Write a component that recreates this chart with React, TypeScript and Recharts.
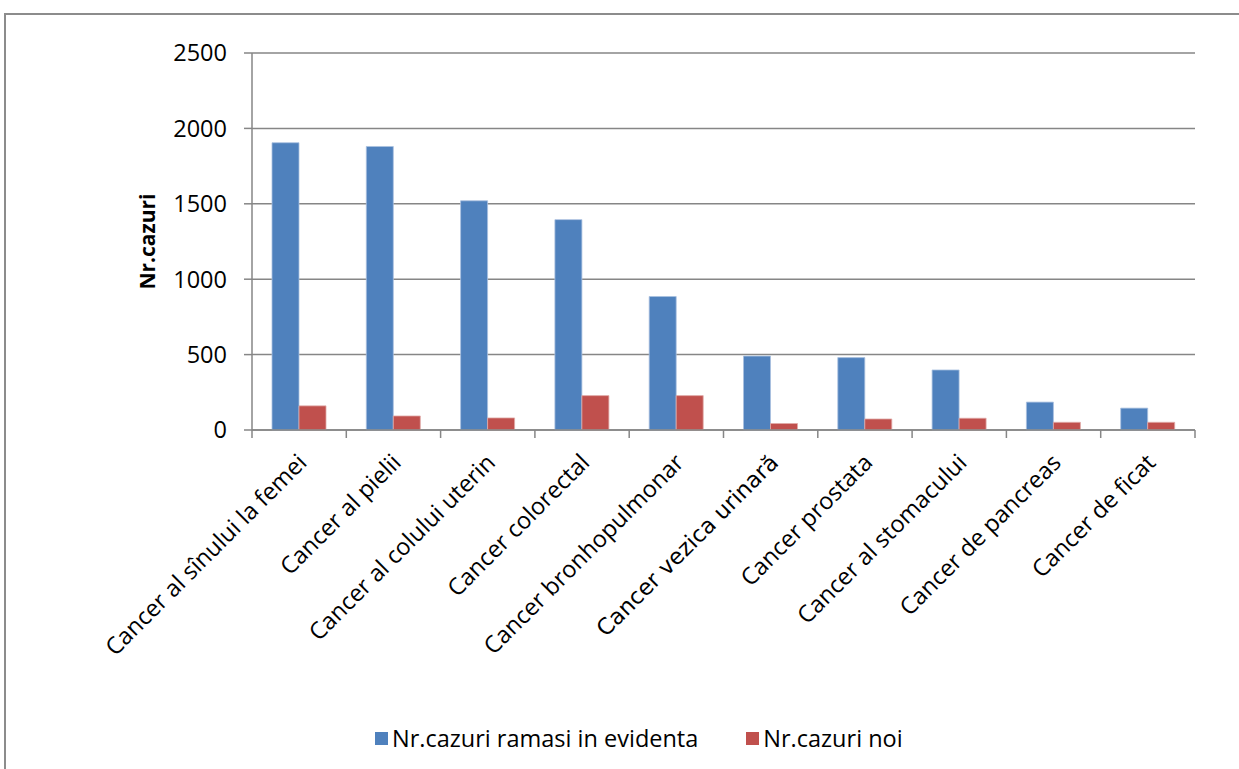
import * as React from "react";
import { BarChart, Bar, XAxis, YAxis, CartesianGrid } from "recharts";

const categories = [
  "Cancer al sînului la femei",
  "Cancer al pielii",
  "Cancer al colului uterin",
  "Cancer colorectal",
  "Cancer bronhopulmonar",
  "Cancer vezica urinară",
  "Cancer prostata",
  "Cancer al stomacului",
  "Cancer de pancreas",
  "Cancer de ficat",
];
const ramasiInEvidenta = [1905, 1880, 1520, 1395, 885, 490, 480, 398, 185, 145];
const cazuriNoi = [160, 93, 80, 228, 228, 43, 73, 78, 51, 51];
const yTicks = [0, 500, 1000, 1500, 2000, 2500];

const seriesNames = ["Nr.cazuri ramasi in evidenta", "Nr.cazuri noi"];
const colors = ["#4F81BD", "#C0504D"];

const data = categories.map((name, i) => ({
  name,
  ramasi: ramasiInEvidenta[i],
  noi: cazuriNoi[i],
}));

const FONT = "'Open Sans', sans-serif";
const BAND = 94.3;

function XTick(props: any) {
  const { x, y, payload, index } = props;
  // this one label is set in a different typeface in the original
  const odd = payload.value === "Cancer vezica urinară";
  const tx = x + 9;
  const ty = y + 26;
  return (
    <g>
      <line x1={x - BAND / 2} x2={x - BAND / 2} y1={y - 8} y2={y} stroke="#868686" strokeWidth={1.5} />
      {index === categories.length - 1 && (
        <line x1={x + BAND / 2} x2={x + BAND / 2} y1={y - 8} y2={y} stroke="#868686" strokeWidth={1.5} />
      )}
      <text
        x={tx}
        y={ty}
        transform={`rotate(-45, ${tx}, ${ty})`}
        textAnchor="end"
        fontSize={odd ? 22.5 : 23.5}
        fontFamily={odd ? "'DejaVu Sans', Verdana, sans-serif" : FONT}
        fill="#000"
      >
        {payload.value}
      </text>
    </g>
  );
}

export default function App() {
  return (
    <div style={{ position: "absolute", left: 0, top: 0, width: 1239, height: 769, background: "#fff", overflow: "hidden" }}>
      <div
        style={{
          position: "absolute",
          left: 4,
          top: 13,
          width: 1300,
          height: 800,
          borderTop: "2px solid #8c8c8c",
          borderLeft: "2px solid #8c8c8c",
        }}
      />
      <div style={{ position: "absolute", left: 0, top: 0 }}>
        <BarChart
          width={1239}
          height={769}
          data={data}
          margin={{ top: 53, right: 44, bottom: 89, left: 152 }}
          barSize={27}
          barGap={0}
        >
          <CartesianGrid horizontal vertical={false} stroke="#868686" strokeWidth={1.5} />
          <XAxis
            dataKey="name"
            interval={0}
            height={250}
            tickLine={false}
            axisLine={{ stroke: "#868686", strokeWidth: 1.5 }}
            tick={<XTick />}
          />
          <YAxis
            width={100}
            domain={[0, 2500]}
            ticks={yTicks}
            tickSize={8}
            tickMargin={17}
            tickLine={{ stroke: "#868686", strokeWidth: 1.5 }}
            axisLine={{ stroke: "#868686", strokeWidth: 1.5 }}
            tick={{ fill: "#000", fontSize: 23.5, fontFamily: FONT }}
            label={{
              value: "Nr.cazuri",
              angle: -90,
              position: "insideLeft",
              offset: -4,
              style: { fontSize: 21, fontWeight: 700, fontFamily: FONT, fill: "#000", textAnchor: "middle" },
            }}
          />
          <Bar dataKey="ramasi" name={seriesNames[0]} fill={colors[0]} stroke="#a9c0e0" strokeWidth={0.8} isAnimationActive={false} />
          <Bar dataKey="noi" name={seriesNames[1]} fill={colors[1]} stroke="#e0a9a7" strokeWidth={0.8} isAnimationActive={false} />
        </BarChart>
      </div>
      <div
        style={{
          position: "absolute",
          left: 375,
          top: 722,
          display: "flex",
          alignItems: "center",
          fontFamily: FONT,
          fontSize: 23.5,
          color: "#000",
          whiteSpace: "nowrap",
        }}
      >
        {seriesNames.map((n, i) => (
          <div key={n} style={{ display: "flex", alignItems: "center", marginRight: i === 0 ? 48 : 0 }}>
            <span style={{ width: 13, height: 13, background: colors[i], display: "inline-block", marginRight: 4 }} />
            <span>{n}</span>
          </div>
        ))}
      </div>
    </div>
  );
}
